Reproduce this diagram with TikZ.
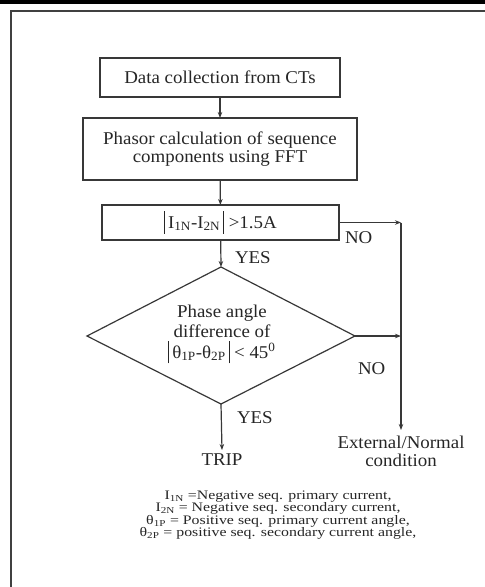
\documentclass[tikz,border=0pt]{standalone}
\usepackage{fontspec}
\setmainfont[FakeStretch=1.05]{Liberation Serif}
\newfontfamily\legfont[FakeStretch=1.22]{Liberation Serif}
\usetikzlibrary{arrows.meta}
\newcommand{\tallbar}{\rule[-0.3em]{0.8pt}{1.25em}}
\begin{document}
\begin{tikzpicture}[x=1pt,y=-1pt,
  every node/.style={inner sep=0pt, outer sep=0pt, text=black!85},
  line/.style={draw=black!78, line width=1.2pt},
  arr/.style={line, -{Stealth[length=6pt,width=4.5pt]}},
  box/.style={line, font=\fontsize{18}{18.5}\selectfont, align=center},
  lbl/.style={font=\fontsize{18}{18.5}\selectfont},
  legend/.style={font=\legfont\fontsize{13}{12.3}\selectfont, align=center}]
\useasboundingbox (0,0) rectangle (485,587);
\fill[white] (0,0) rectangle (485,587);
\fill[black] (0,0) rectangle (485,3.5);
\draw[black!75, line width=2pt] (11,587) -- (11,11) -- (485,11);
% boxes
\node[box, minimum width=240pt, minimum height=39pt] (b1) at (220,77.5) {Data collection from CTs};
\node[box, minimum width=274pt, minimum height=62pt] (b2) at (220,149) {Phasor calculation of sequence\\components using FFT};
\node[box, minimum width=237pt, minimum height=35pt] (b3) at (220.5,222.5)
  {\tallbar\,I\textsubscript{1N}-I\textsubscript{2N}\,\tallbar\ {>}1.5A};
\coordinate (dt) at (221,267);
\coordinate (dr) at (355,336);
\coordinate (db) at (221,404);
\coordinate (dl) at (87,336);
\draw[line] (dt) -- (dr) -- (db) -- (dl) -- cycle;
\node[box, draw=none, font=\fontsize{18}{20.5}\selectfont] (dtext) at (222,334) {Phase angle\\difference of\\\tallbar\,θ\textsubscript{1P}-θ\textsubscript{2P}\,\tallbar\ {<} 45\textsuperscript{0}};
% right column
\coordinate (r1) at (401,222.5);
\coordinate (r2) at (401,336);
\node[lbl, align=center, anchor=north] (ext) at (401,436) {External/Normal\\condition};
\coordinate (extin) at (401,430);
\node[lbl, anchor=north] (trip) at (222,454) {TRIP};
% arrows
\draw[arr] (b1) -- (b2);
\draw[arr] (b2) -- (b3);
\draw[arr] (b3) -- (dt);
\draw[arr] (b3.east) -- (r1);
\draw[arr] (dr) -- (r2);
\draw[arr] (r1) -- (extin);
\draw[arr] (db) -- (222,450);
% labels
\node[lbl, anchor=west] (yes1) at (235,258) {YES};
\node[lbl, anchor=west] (no1) at (345,238) {NO};
\node[lbl, anchor=west] (no2) at (358,369) {NO};
\node[lbl, anchor=west] (yes2) at (237,418) {YES};
% legend
\node[legend, anchor=north] (leg) at (278,491) {I\textsubscript{1N} =Negative seq. primary current,\\
I\textsubscript{2N} = Negative seq. secondary current,\\
θ\textsubscript{1P} = Positive seq. primary current angle,\\
θ\textsubscript{2P} = positive seq. secondary current angle,};
\end{tikzpicture}
\end{document}
